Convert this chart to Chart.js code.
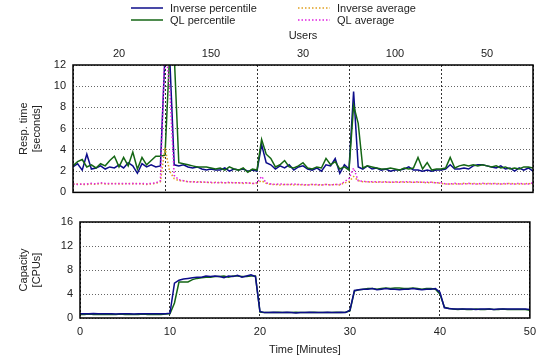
<!DOCTYPE html>
<html>
<head>
<meta charset="utf-8">
<script src="https://cdn.jsdelivr.net/npm/chart.js@4.4.1/dist/chart.umd.min.js"></script>
<style>
html,body{margin:0;padding:0;background:#fff;}
#wrap{position:relative;width:543px;height:362px;}
#c1{position:absolute;left:0;top:0;}
#c2{position:absolute;left:0;top:206px;}
</style>
</head>
<body>
<div id="wrap">
<canvas id="c1" width="543" height="206"></canvas>
<canvas id="c2" width="543" height="156"></canvas>
</div>
<script>
// ---- data (sampled every half minute, 0..50 min) ----
const STEP_MIN = 0.5;
const userLabels = ['20', '150', '30', '100', '50'];
const userTickMinutes = [5, 15, 25, 35, 45];
const respTicks = [0, 2, 4, 6, 8, 10, 12];
const capTicks = [0, 4, 8, 12, 16];
const timeTicks = [0, 10, 20, 30, 40, 50];

const inversePercentile = [
  2.4,2.7,2.1,3.6,2.2,2.3,2.5,2.2,2.4,2.3,2.6,2.3,2.8,2.5,1.8,2.7,2.4,2.6,2.4,2.5,
  13,13,2.6,2.5,2.6,2.4,2.3,2.4,2.2,2.1,2.2,2.1,2.1,2.3,2.0,2.2,2.1,2.2,2.0,2.1,
  2.0,4.5,2.8,2.6,2.2,2.5,2.3,2.6,2.1,2.4,2.5,2.2,2.1,2.3,2.0,2.6,2.5,3.2,1.8,2.6,
  2.2,9.5,2.4,2.2,2.5,2.2,2.3,2.1,2.2,2.0,2.1,2.1,2.2,2.4,2.1,2.1,2.0,2.1,2.0,2.1,
  2.1,2.2,2.6,2.2,2.2,2.3,2.2,2.5,2.6,2.6,2.5,2.4,2.3,2.5,2.2,2.3,2.0,2.3,2.1,2.3,2.0
];
const qlPercentile = [
  2.5,2.9,3.1,2.4,2.6,2.3,2.7,2.5,3.0,3.4,2.4,3.3,2.5,3.8,2.2,3.3,2.6,3.0,3.4,3.4,
  3.5,13,13,2.8,2.7,2.6,2.5,2.4,2.4,2.4,2.3,2.2,2.3,2.1,2.4,2.2,2.1,2.3,1.9,2.2,
  2.1,5.0,3.6,3.2,2.4,2.6,3.0,2.4,2.3,2.5,2.8,2.3,2.2,2.4,2.3,3.2,2.6,2.9,2.2,2.4,
  2.1,8.2,6.5,2.3,2.5,2.4,2.3,2.2,2.2,2.3,2.2,2.1,2.3,2.2,2.3,3.3,2.2,2.8,2.1,2.2,
  2.2,2.3,3.3,2.3,2.5,2.6,2.5,2.6,2.5,2.6,2.5,2.4,2.5,2.3,2.4,2.2,2.3,2.2,2.4,2.4,2.3
];
const inverseAverage = [
  0.75,0.8,0.75,0.75,0.8,0.75,0.85,0.8,0.8,0.85,0.8,0.8,0.85,0.8,0.85,0.8,0.75,0.8,0.85,1.0,
  4.2,2.0,1.3,1.1,1.1,1.0,1.0,1.0,0.95,0.95,0.9,0.95,0.9,0.9,0.9,0.9,0.9,0.85,0.9,0.85,
  0.85,1.1,0.85,0.75,0.75,0.7,0.75,0.75,0.7,0.75,0.7,0.7,0.75,0.7,0.7,0.75,0.7,0.75,0.7,0.9,
  1.0,1.5,1.1,1.0,1.0,0.95,0.95,1.0,0.95,0.95,0.95,1.0,0.95,0.95,0.95,0.95,0.95,0.9,0.95,0.9,
  0.85,0.8,0.8,0.8,0.8,0.85,0.8,0.85,0.8,0.8,0.85,0.8,0.85,0.8,0.8,0.85,0.8,0.8,0.8,0.85,0.75
];
const qlAverage = [
  0.8,0.75,0.8,0.8,0.85,0.8,0.9,0.85,0.85,0.8,0.85,0.85,0.8,0.85,0.8,0.85,0.8,0.85,0.9,1.1,
  14,10,1.6,1.2,1.1,1.0,1.0,0.95,1.0,0.95,0.95,0.9,0.95,0.9,0.95,0.9,0.9,0.9,0.9,0.85,
  0.9,1.5,0.9,0.8,0.75,0.8,0.75,0.75,0.8,0.75,0.75,0.7,0.75,0.75,0.7,0.75,0.7,0.75,0.75,1.0,
  1.3,2.3,1.1,1.05,1.0,1.0,1.0,0.95,1.0,0.95,1.0,0.95,1.0,1.0,0.95,1.0,0.95,0.95,0.95,0.9,
  0.9,0.8,0.8,0.85,0.8,0.8,0.85,0.8,0.8,0.85,0.8,0.85,0.8,0.8,0.85,0.8,0.8,0.85,0.8,0.8,0.9
];
const inverseCapacity = [
  0.7,0.7,0.7,0.75,0.7,0.7,0.7,0.7,0.65,0.7,0.7,0.7,0.65,0.7,0.7,0.7,0.7,0.7,0.7,0.7,
  0.8,5.8,6.3,6.5,6.6,6.7,6.8,6.8,7.0,6.9,7.0,6.9,6.7,7.0,6.9,7.1,6.8,7.0,7.2,6.9,
  1.1,0.9,0.9,0.95,0.9,0.9,0.95,0.9,0.85,0.9,0.9,0.95,0.9,0.9,0.9,0.95,0.9,0.9,0.95,0.9,
  1.3,4.6,4.7,4.8,4.8,4.9,4.7,4.8,4.9,4.8,4.8,4.7,4.8,4.8,4.9,4.8,4.7,4.8,4.8,4.9,
  4.3,1.7,1.6,1.5,1.5,1.5,1.5,1.5,1.4,1.5,1.5,1.5,1.4,1.5,1.5,1.5,1.5,1.5,1.5,1.5,1.4
];
const qlCapacity = [
  0.6,0.6,0.65,0.6,0.6,0.6,0.6,0.6,0.6,0.65,0.6,0.6,0.6,0.6,0.65,0.6,0.6,0.6,0.6,0.65,
  0.7,2.5,6.0,6.0,6.0,6.4,6.6,6.7,6.8,6.8,6.9,6.9,7.0,6.8,7.0,7.0,6.9,6.9,7.0,7.0,
  1.0,0.9,0.9,0.9,0.95,0.9,0.9,0.9,0.95,0.9,0.9,0.9,0.95,0.9,0.9,0.9,0.9,0.95,0.9,0.95,
  1.2,4.5,4.7,4.8,4.9,4.9,4.8,4.9,5.0,4.9,5.0,5.0,4.9,4.9,5.0,4.9,4.8,4.9,4.9,4.8,
  4.0,1.8,1.6,1.5,1.4,1.5,1.4,1.4,1.5,1.4,1.4,1.5,1.4,1.4,1.5,1.4,1.4,1.4,1.4,1.4,1.3
];

// ---- styles ----
const BLUE = '#0c0c8a';
const GREEN = '#146614';
const ORANGE = '#e0a020';
const MAGENTA = '#e020e0';
const FONT = "'Liberation Sans', Arial, Helvetica, sans-serif";
const TXT = '#222';

Chart.defaults.font.family = FONT;
Chart.defaults.font.size = 11;
Chart.defaults.color = TXT;
Chart.defaults.animation = false;

function toXY(arr) { return arr.map((v, i) => ({ x: i * STEP_MIN, y: v })); }

const framePlugin = {
  id: 'frame',
  afterDatasetsDraw(chart) {
    const a = chart.chartArea, ctx = chart.ctx;
    ctx.save();
    ctx.strokeStyle = '#000';
    ctx.lineWidth = 1.5;
    ctx.strokeRect(a.left, a.top, a.right - a.left, a.bottom - a.top);
    ctx.restore();
  }
};

const legendItems = [
  { label: 'Inverse percentile', color: BLUE, dash: [], col: 0, row: 0 },
  { label: 'QL percentile', color: GREEN, dash: [], col: 0, row: 1 },
  { label: 'Inverse average', color: ORANGE, dash: [1.5, 2], col: 1, row: 0 },
  { label: 'QL average', color: MAGENTA, dash: [1.5, 2], col: 1, row: 1 }
];
const legendPlugin = {
  id: 'gpLegend',
  afterDraw(chart) {
    const ctx = chart.ctx;
    const colX = [131, 298], rowY = [8, 20];
    ctx.save();
    ctx.font = '11px ' + FONT;
    ctx.textBaseline = 'middle';
    ctx.fillStyle = TXT;
    legendItems.forEach(it => {
      const x = colX[it.col], y = rowY[it.row];
      ctx.strokeStyle = it.color;
      ctx.lineWidth = 1.5;
      ctx.setLineDash(it.dash);
      ctx.beginPath(); ctx.moveTo(x, y); ctx.lineTo(x + 32, y); ctx.stroke();
      ctx.setLineDash([]);
      ctx.fillText(it.label, x + 39, y + 0.5);
    });
    ctx.restore();
  }
};

function lineDs(label, data, color, dash, width) {
  return {
    label, data: toXY(data), borderColor: color, backgroundColor: color,
    borderWidth: width, borderDash: dash, pointRadius: 0, tension: 0, fill: false
  };
}

const gridX = { color: '#333', lineWidth: 1, drawTicks: false };
const gridY = { color: '#666', lineWidth: 1, drawTicks: false };

// ---- top chart: response time ----
new Chart(document.getElementById('c1'), {
  type: 'line',
  data: {
    datasets: [
      lineDs('QL average', qlAverage, MAGENTA, [1.5, 2], 1.5),
      lineDs('Inverse average', inverseAverage, ORANGE, [1.5, 2], 1.5),
      lineDs('QL percentile', qlPercentile, GREEN, [], 1.5),
      lineDs('Inverse percentile', inversePercentile, BLUE, [], 1.5)
    ]
  },
  options: {
    responsive: false,
    layout: { padding: { top: 27, right: 10, bottom: 2, left: 17 } },
    plugins: { legend: { display: false }, tooltip: { enabled: false } },
    scales: {
      x: {
        type: 'linear', min: 0, max: 50, position: 'bottom',
        afterBuildTicks: s => { s.ticks = timeTicks.map(v => ({ value: v })); },
        ticks: { display: false },
        grid: gridX,
        border: { display: false, dash: [2, 2] },
        afterFit: s => { s.height = 0; }
      },
      x2: {
        type: 'linear', min: 0, max: 50, position: 'top',
        afterBuildTicks: s => { s.ticks = userTickMinutes.map(v => ({ value: v })); },
        ticks: { padding: 4, maxRotation: 0, autoSkip: false,
                 callback: (v, i) => userLabels[i] },
        grid: { display: false, drawTicks: false },
        border: { display: false },
        title: { display: true, text: 'Users', padding: { top: 2, bottom: 0 }, font: { size: 11 } },
        afterFit: s => { s.height = 38; }
      },
      y: {
        min: 0, max: 12,
        afterBuildTicks: s => { s.ticks = respTicks.map(v => ({ value: v })); },
        ticks: { padding: 7 },
        grid: gridY,
        border: { display: false, dash: [1, 2] },
        title: { display: true, text: ['Resp. time', '[seconds]'], padding: { top: 0, bottom: 4 }, font: { size: 11 }, lineHeight: 1.1 },
        afterFit: s => { s.width = 56; }
      }
    }
  },
  plugins: [framePlugin, legendPlugin]
});

// ---- bottom chart: capacity ----
new Chart(document.getElementById('c2'), {
  type: 'line',
  data: {
    datasets: [
      lineDs('Inverse', inverseCapacity, BLUE, [], 1.5),
      lineDs('QL', qlCapacity, GREEN, [], 1.5)
    ]
  },
  options: {
    responsive: false,
    layout: { padding: { top: 16, right: 10, bottom: 5, left: 17 } },
    plugins: { legend: { display: false }, tooltip: { enabled: false } },
    scales: {
      x: {
        type: 'linear', min: 0, max: 50, position: 'bottom',
        afterBuildTicks: s => { s.ticks = timeTicks.map(v => ({ value: v })); },
        ticks: { padding: 7, maxRotation: 0 },
        grid: gridX,
        border: { display: false, dash: [2, 2] },
        title: { display: true, text: 'Time [Minutes]', padding: { top: 4, bottom: 0 }, font: { size: 11 } },
        afterFit: s => { s.height = 39; }
      },
      y: {
        min: 0, max: 16,
        afterBuildTicks: s => { s.ticks = capTicks.map(v => ({ value: v })); },
        ticks: { padding: 7 },
        grid: gridY,
        border: { display: false, dash: [1, 2] },
        title: { display: true, text: ['Capacity', '[CPUs]'], padding: { top: 0, bottom: 4 }, font: { size: 11 }, lineHeight: 1.1 },
        afterFit: s => { s.width = 63; }
      }
    }
  },
  plugins: [framePlugin]
});
</script>
</body>
</html>
